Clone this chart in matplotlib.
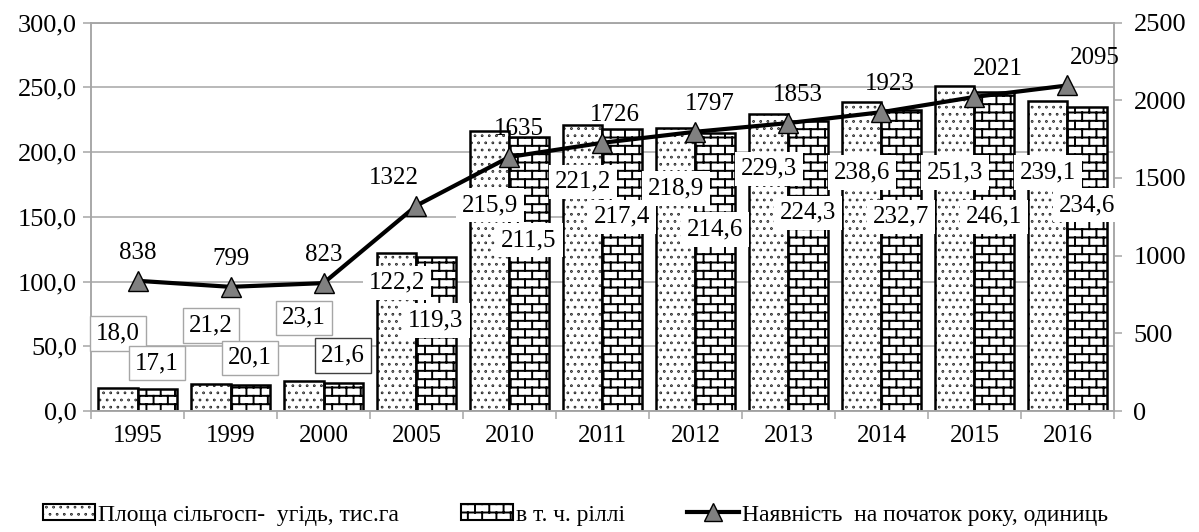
import numpy as np
import matplotlib
matplotlib.use("Agg")
import matplotlib.pyplot as plt
import matplotlib.hatch as mhatch
from matplotlib.path import Path
from matplotlib.lines import Line2D
from matplotlib.patches import Patch
from matplotlib.ticker import FuncFormatter, MultipleLocator

years = ["1995", "1999", "2000", "2005", "2010", "2011", "2012", "2013", "2014", "2015", "2016"]
area_total = [18.0, 21.2, 23.1, 122.2, 215.9, 221.2, 218.9, 229.3, 238.6, 251.3, 239.1]
area_arable = [17.1, 20.1, 21.6, 119.3, 211.5, 217.4, 214.6, 224.3, 232.7, 246.1, 234.6]
count_start = [838, 799, 823, 1322, 1635, 1726, 1797, 1853, 1923, 2021, 2095]

label_total = "Площа сільгосп-  угідь, тис.га"
label_arable = "в т. ч. ріллі"
label_count = "Наявність  на початок року, одиниць"

# where the value boxes sit (left axis units)
box_y_total = [60, 66, 72, 99, 159, 177, 172, 187, 184, 184, 184]
box_y_arable = [37, 41, 43, 70, 132, 150, 140, 153, 150, 150, 159]
# horizontal shift of the line labels, in points
line_lbl_dx = [0, 0, 0, -16, 7, 9, 10, 7, 6, 17, 20]


class BrickHatch(mhatch.HatchPatternBase):
    """brick pattern, replaces the '-' hatch"""
    def __init__(self, hatch, density):
        self.rows = hatch.count('-') * 12
        self.cols = 7
        self.num_lines = self.rows + (self.rows + 1) * self.cols if self.rows else 0
        self.num_vertices = self.num_lines * 2

    def set_vertices_and_codes(self, vertices, codes):
        segs = []
        for i in range(-1, self.rows):
            y0 = (i + 0.5) / self.rows
            y1 = (i + 1.5) / self.rows
            if i >= 0:
                segs.append([(0, y0), (1, y0)])
            shift = 0.5 * (i % 2)
            for j in range(self.cols):
                xx = (j + 0.25 + shift) / self.cols
                segs.append([(xx, y0), (xx, y1)])
        vertices[:] = np.array(segs, dtype=float).reshape(-1, 2)
        codes[0::2] = Path.MOVETO
        codes[1::2] = Path.LINETO


class DotHatch(mhatch.Circles):
    size = 0.05
    filled = True

    def __init__(self, hatch, density):
        self.num_rows = hatch.count('.') * 14
        super().__init__(hatch, density)


ht = mhatch._hatch_types
ht[ht.index(mhatch.HorizontalHatch)] = BrickHatch
ht[ht.index(mhatch.SmallFilledCircles)] = DotHatch

plt.rcParams['font.family'] = 'Liberation Serif'
plt.rcParams['hatch.linewidth'] = 1.4
plt.rcParams['hatch.color'] = 'black'

grey = '#a6a6a6'
fig = plt.figure(figsize=(11.99, 5.32), dpi=100)
ax = fig.add_axes([0.0759, 0.2274, 0.8532, 0.7303])
ax2 = ax.twinx()

x = np.arange(len(years))
w = 0.42
ax.bar(x - w / 2, area_total, w, color='white', edgecolor='black', linewidth=1.8,
       hatch='.', zorder=2)
ax.bar(x + w / 2, area_arable, w, color='white', edgecolor='black', linewidth=1.8,
       hatch='-', zorder=2)

ax.set_xlim(-0.5, len(years) - 0.5)
ax.set_ylim(0, 300)
ax2.set_ylim(0, 2500)
ax.yaxis.set_major_locator(MultipleLocator(50))
ax2.yaxis.set_major_locator(MultipleLocator(500))
ax.yaxis.set_major_formatter(FuncFormatter(lambda v, p: f"{v:.1f}".replace('.', ',')))
ax.grid(axis='y', color=grey, linewidth=1.1, zorder=0)
ax.set_axisbelow(True)

ax.set_xticks(np.arange(-0.5, len(years), 1.0))
ax.set_xticklabels([])
ax.set_xticks(x, minor=True)
ax.set_xticklabels(years, minor=True)
ax.tick_params(axis='x', which='minor', length=0, pad=10, labelsize=18)
ax.tick_params(axis='x', which='major', length=6, width=1.1, color=grey)
ax.tick_params(axis='y', length=6, width=1.1, color=grey, labelsize=19, pad=4)
ax2.tick_params(axis='y', length=6, width=1.1, color=grey, labelsize=19, pad=8)
for a in (ax, ax2):
    for s in a.spines.values():
        s.set_color(grey)
        s.set_linewidth(1.1)

ax2.plot(x, count_start, color='black', linewidth=3, marker='^', markersize=15,
         markerfacecolor='#808080', markeredgecolor='black', markeredgewidth=1, zorder=3)
for i, v in enumerate(count_start):
    ax2.annotate(str(v), (x[i], v), xytext=(line_lbl_dx[i], 20), textcoords='offset points',
                 ha='center', va='center', fontsize=18, zorder=4)

# value boxes go on ax2 so they cover the line
for i in range(len(years)):
    edge = grey if i < 3 else 'none'
    ax2.text(x[i] - w / 2, box_y_total[i], f"{area_total[i]:.1f}".replace('.', ','),
             transform=ax.transData, ha='center', va='center', fontsize=18, zorder=5,
             bbox=dict(boxstyle='square,pad=0.25', fc='white', ec=edge, lw=1))
    edge2 = '#404040' if i == 2 else edge
    ax2.text(x[i] + w / 2, box_y_arable[i], f"{area_arable[i]:.1f}".replace('.', ','),
             transform=ax.transData, ha='center', va='center', fontsize=18, zorder=5,
             bbox=dict(boxstyle='square,pad=0.25', fc='white', ec=edge2, lw=1))

handles = [
    Patch(facecolor='white', edgecolor='black', hatch='.', linewidth=1.5),
    Patch(facecolor='white', edgecolor='black', hatch='-', linewidth=1.5),
    Line2D([], [], color='black', linewidth=3, marker='^', markersize=13,
           markerfacecolor='#808080', markeredgecolor='black'),
]
fig.legend(handles, [label_total, label_arable, label_count], loc='center',
           bbox_to_anchor=(0.48, 0.032), ncol=3, frameon=False,
           prop=dict(family='Liberation Serif', size=17),
           handlelength=2.2, handleheight=0.65, handletextpad=0.15, columnspacing=2.6)

fig.savefig("out.png", dpi=100)
